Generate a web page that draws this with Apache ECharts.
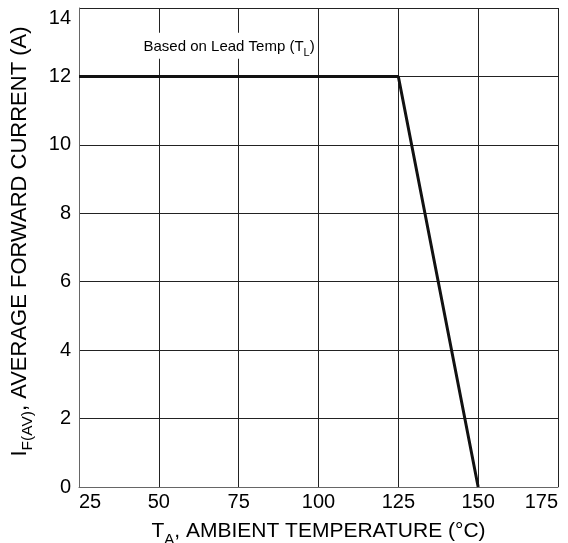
<!DOCTYPE html>
<html>
<head>
<meta charset="utf-8">
<script src="https://cdn.jsdelivr.net/npm/echarts@6/dist/echarts.min.js"></script>
<style>
  html, body { margin: 0; padding: 0; background: #fff; }
  #chart { width: 568px; height: 543px; }
</style>
</head>
<body>
<div id="chart"></div>
<script>
// derating curve
const temps = [25, 125, 150];
const current = [12, 12, 0];
const xTicks = [25, 50, 75, 100, 125, 150, 175];
const yTicks = [0, 2, 4, 6, 8, 10, 12, 14];
const noteAt = [72, 12.9];

const chart = echarts.init(document.getElementById('chart'));
const font = 'Liberation Sans, Arial, sans-serif';

const titleRich = (big, small) => ({
  n: { fontSize: big, color: '#000', fontFamily: font, lineHeight: big + 3, verticalAlign: 'bottom' },
  s: { fontSize: small, color: '#000', fontFamily: font, lineHeight: small + 2, verticalAlign: 'bottom', padding: [0, 0, -5, 0] }
});

const option = {
  animation: false,
  backgroundColor: '#fff',
  textStyle: { fontFamily: font },
  grid: { left: 79, right: 10, top: 8, bottom: 56, outerBoundsMode: 'none', containLabel: false },
  xAxis: {
    type: 'value',
    min: xTicks[0], max: xTicks[xTicks.length - 1], interval: 25,
    axisLine: { lineStyle: { color: '#666', width: 1 } },
    axisTick: { show: false },
    axisLabel: {
      color: '#000', fontSize: 20, margin: 5, fontFamily: font,
      alignMinLabel: 'left', alignMaxLabel: 'right'
    },
    splitLine: { show: true, lineStyle: { color: '#222', width: 1 } },
    name: '{n|T}{s|A}{n|, AMBIENT TEMPERATURE (°C)}',
    nameLocation: 'middle',
    nameGap: 31,
    nameTextStyle: { fontFamily: font, rich: titleRich(21, 15) }
  },
  yAxis: {
    type: 'value',
    min: yTicks[0], max: yTicks[yTicks.length - 1], interval: 2,
    axisLine: { show: true, lineStyle: { color: '#666', width: 1 } },
    axisTick: { show: false },
    axisLabel: {
      color: '#000', fontSize: 20, margin: 8, fontFamily: font,
      verticalAlignMaxLabel: 'top'
    },
    splitLine: { show: true, lineStyle: { color: '#222', width: 1 } },
    name: '{n|I}{s|F(AV)}{n|, AVERAGE FORWARD CURRENT (A)}',
    nameLocation: 'middle',
    nameGap: 48,
    nameTextStyle: { fontFamily: font, rich: titleRich(22, 15.5), padding: [0, 0, 0, 12] }
  },
  series: [
    {
      type: 'line',
      data: temps.map((t, i) => [t, current[i]]),
      symbol: 'none',
      lineStyle: { color: '#111', width: 3 },
      markPoint: {
        symbol: 'rect',
        symbolSize: 0,
        data: [{ coord: noteAt }],
        label: {
          show: true,
          formatter: '{n|Based on Lead Temp (T}{s|L}{n|)}',
          backgroundColor: '#fff',
          padding: [4, 3, 4, 3],
          rich: {
            n: { fontSize: 15, color: '#000', fontFamily: font, lineHeight: 18, verticalAlign: 'bottom' },
            s: { fontSize: 11, color: '#000', fontFamily: font, lineHeight: 13, verticalAlign: 'bottom', padding: [0, 0, -4, 0] }
          }
        }
      }
    }
  ]
};

chart.setOption(option);
</script>
</body>
</html>
